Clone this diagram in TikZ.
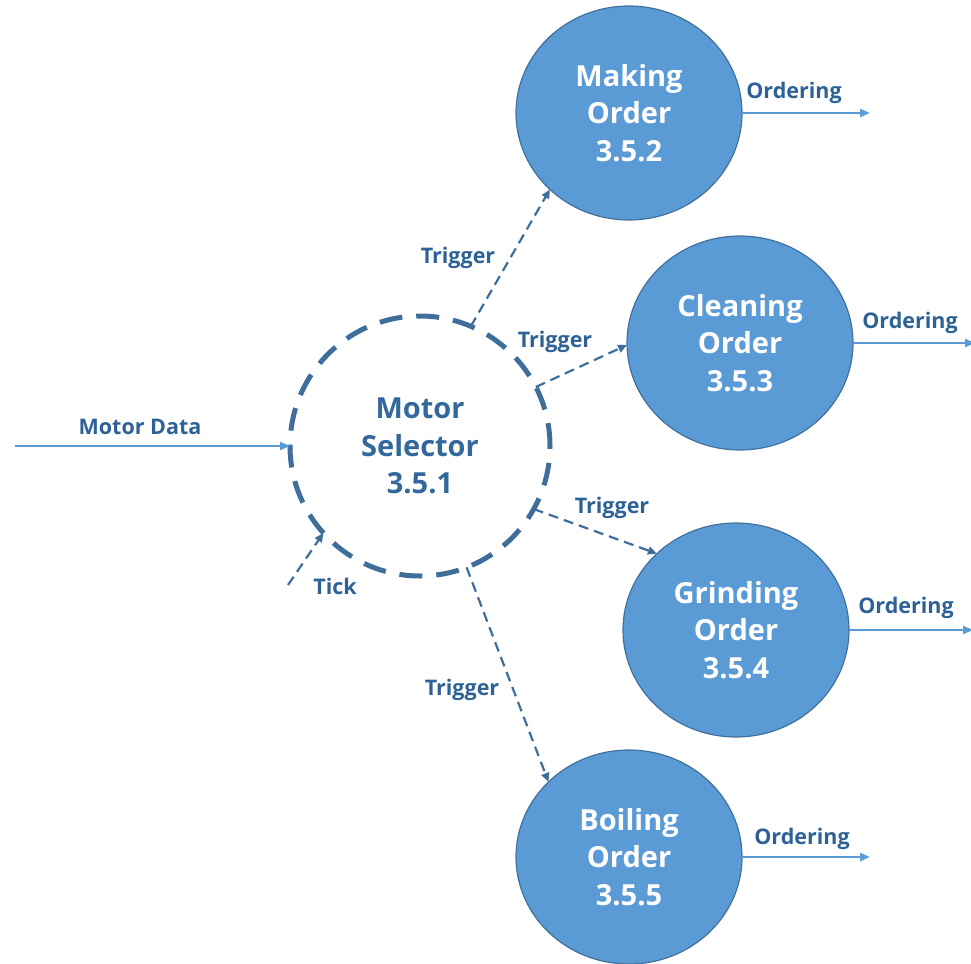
\documentclass[tikz,border=0pt]{standalone}
\usepackage{fontspec}
\setmainfont{Open Sans}
\usetikzlibrary{arrows.meta,shapes.geometric}
\definecolor{procfill}{HTML}{5B9BD5}
\definecolor{procedge}{HTML}{41719C}
\definecolor{labelblue}{HTML}{2E6296}
\definecolor{dashblue}{HTML}{3F6E9A}
\definecolor{flowblue}{HTML}{5B9BD5}
\tikzset{
  proc/.style={ellipse, fill=procfill, draw=procedge, line width=1.2pt,
    minimum width=226pt, minimum height=214pt, inner sep=0pt, outer sep=0pt,
    text=white, align=center, font=\bfseries\fontsize{29}{37.5}\selectfont},
  ctrl/.style={circle, draw=dashblue, line width=5pt, dash pattern=on 23pt off 14pt,
    minimum size=260pt, inner sep=0pt, outer sep=0pt,
    text=labelblue!90!procfill, align=center, font=\bfseries\fontsize{29}{37.5}\selectfont},
  lbl/.style={text=labelblue, font=\bfseries\fontsize{21.5}{24}\selectfont, inner sep=0pt},
  flow/.style={draw=flowblue, line width=2.2pt, -{Triangle[length=10pt,width=8pt]}},
  trig/.style={draw=dashblue, line width=2.2pt, dash pattern=on 10pt off 6pt,
    -{Triangle[length=9pt,width=8pt]}}
}
\begin{document}
\begin{tikzpicture}[x=1pt,y=-1pt]
\useasboundingbox (0,0) rectangle (971,963);
% processes
\node[ctrl] (ms) at (420,446) {Motor\\Selector\\3.5.1};
\node[proc] (mk) at (629,113) {Making\\Order\\3.5.2};
\node[proc] (cl) at (740,343) {Cleaning\\Order\\3.5.3};
\node[proc] (gr) at (736,630) {Grinding\\Order\\3.5.4};
\node[proc] (bo) at (629,857) {Boiling\\Order\\3.5.5};
% free ends
\coordinate (mdin) at (15,446);
\coordinate (tickin) at (288,585);
\coordinate (mkout) at (870,113);
\coordinate (clout) at (975,343);
\coordinate (grout) at (973,630);
\coordinate (boout) at (870,857);
% connectors
\draw[flow] (mdin) -- (ms.west);
\draw[trig] (tickin) -- (ms.222);
\draw[trig] (ms.67.5) -- (mk.224);
\draw[trig] (ms.27) -- (cl.181);
\draw[trig] (ms.-29.5) -- (gr.136);
\draw[trig] (ms.-69) -- (bo.137);
\draw[flow] (mk.east) -- (mkout);
\draw[flow] (cl.east) -- (clout);
\draw[flow] (gr.east) -- (grout);
\draw[flow] (bo.east) -- (boout);
% labels
\node[lbl] (lmd) at (140,427) {Motor Data};
\node[lbl] (ltick) at (335,586) {Tick};
\node[lbl] (lt1) at (458,258) {Trigger};
\node[lbl] (lt2) at (555,342) {Trigger};
\node[lbl] (lt3) at (612,508) {Trigger};
\node[lbl] (lt4) at (462,690) {Trigger};
\node[lbl] (lo1) at (794,93) {Ordering};
\node[lbl] (lo2) at (910,323) {Ordering};
\node[lbl] (lo3) at (906,608) {Ordering};
\node[lbl] (lo4) at (802,839) {Ordering};
\end{tikzpicture}
\end{document}
